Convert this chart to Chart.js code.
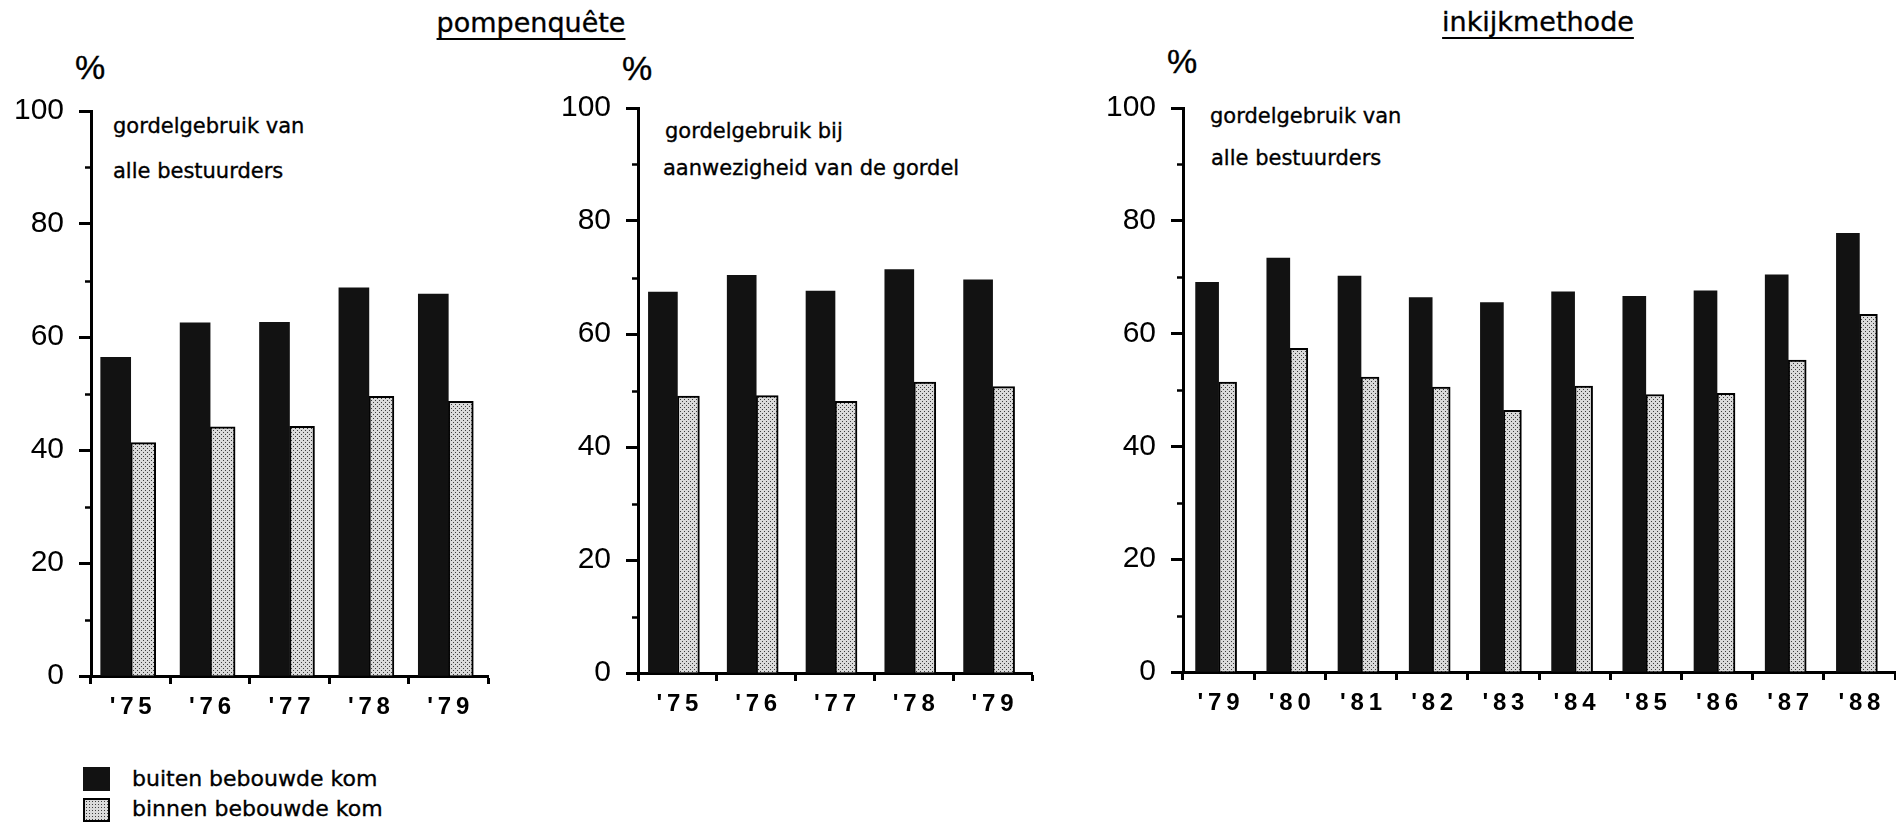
<!DOCTYPE html>
<html lang="nl">
<head>
<meta charset="utf-8">
<title>Gordelgebruik</title>
<script src="https://cdn.jsdelivr.net/npm/chart.js@4.4.1/dist/chart.umd.min.js"></script>
<style>
    html, body { margin: 0; padding: 0; background: #fff; width: 1896px; height: 824px; overflow: hidden; }
    body { position: relative; font-family: "DejaVu Sans", sans-serif; color: #000; }
    canvas { position: absolute; }
    .txt { position: absolute; white-space: nowrap; line-height: 1; -webkit-text-stroke: 0.35px #000; }
    .titel { font-size: 27px; text-decoration: underline; text-decoration-thickness: 2px;
             text-underline-offset: 6px; text-decoration-skip-ink: none; transform: translateX(-50%); }
    .pct { font-family: "Liberation Sans", sans-serif; font-size: 34px; }
    .note { font-size: 21px; }
    .leg { font-size: 22px; }
    .blok { position: absolute; width: 27px; height: 24px; box-sizing: border-box; }
</style>
</head>
<body>

<div class="txt titel" style="left:531px; top:9px;">pompenquête</div>
<div class="txt titel" style="left:1538px; top:8px;">inkijkmethode</div>

<div class="txt pct" style="left:75px; top:50px;">%</div>
<div class="txt pct" style="left:622px; top:51px;">%</div>
<div class="txt pct" style="left:1167px; top:44px;">%</div>

<div class="txt note" style="left:113px; top:116px;">gordelgebruik van</div>
<div class="txt note" style="left:113px; top:161px;">alle bestuurders</div>
<div class="txt note" style="left:665px; top:121px;">gordelgebruik bij</div>
<div class="txt note" style="left:663px; top:158px;">aanwezigheid van de gordel</div>
<div class="txt note" style="left:1210px; top:106px;">gordelgebruik van</div>
<div class="txt note" style="left:1211px; top:148px;">alle bestuurders</div>

<canvas id="grafiekPomp1"></canvas>
<canvas id="grafiekPomp2"></canvas>
<canvas id="grafiekInkijk"></canvas>

<div class="blok" style="left:83px; top:767px; background:#121212;"></div>
<div class="blok" id="legGrijs" style="left:83px; top:798px; border:2px solid #000;"></div>
<div class="txt leg" style="left:132px; top:768px;">buiten bebouwde kom</div>
<div class="txt leg" style="left:132px; top:798px;">binnen bebouwde kom</div>

<script>
// --- GEGEVENS ---
const jarenPomp = ["'75", "'76", "'77", "'78", "'79"];
const jarenInkijk = ["'79", "'80", "'81", "'82", "'83", "'84", "'85", "'86", "'87", "'88"];

// pompenquête: gordelgebruik van alle bestuurders
const pompAlleBuiten = [56.4, 62.5, 62.6, 68.7, 67.6];
const pompAlleBinnen = [41.3, 44.1, 44.2, 49.5, 48.6];

// pompenquête: gordelgebruik bij aanwezigheid van de gordel
const pompAanwezigBuiten = [67.4, 70.4, 67.6, 71.4, 69.6];
const pompAanwezigBinnen = [49.0, 49.1, 48.1, 51.5, 50.7];

// inkijkmethode: gordelgebruik van alle bestuurders
const inkijkBuiten = [69.1, 73.4, 70.2, 66.4, 65.5, 67.4, 66.6, 67.6, 70.4, 77.8];
const inkijkBinnen = [51.4, 57.4, 52.3, 50.5, 46.4, 50.7, 49.2, 49.4, 55.3, 63.4];

// as-schaal
const hoofdTicks = 20;
const tussenTicks = [10, 30, 50, 70, 90];

// --- OPMAAK ---
const LINKS = 90;   // breedte y-as
const BOVEN = 22;   // ruimte boven 100
const ONDER = 60;   // hoogte x-as
const RECHTS = 5;

// plek van de assen op de pagina
const vakPomp1 = { links: 91, rechts: 488, boven: 100, onder: 676 };
const vakPomp2 = { links: 638, rechts: 1032, boven: 97, onder: 673 };
const vakInkijk = { links: 1183, rechts: 1895, boven: 97, onder: 672 };

// gestippeld grijs voor "binnen bebouwde kom"
function maakStippel() {
    const c = document.createElement('canvas');
    c.width = 4; c.height = 4;
    const g = c.getContext('2d');
    g.fillStyle = '#dadada';
    g.fillRect(0, 0, 4, 4);
    g.fillStyle = '#3c3c3c';
    g.fillRect(0, 0, 1, 1);
    g.fillRect(2, 2, 1, 1);
    return g.createPattern(c, 'repeat');
}
const stippel = maakStippel();
document.getElementById('legGrijs').style.background =
    '#dadada radial-gradient(#3c3c3c 0.7px, transparent 0.8px) 0 0 / 3px 3px';

// kleine streepjes tussen de hoofdticks op de y-as
const kleineStreepjes = {
    id: 'kleineStreepjes',
    afterDraw(chart) {
        const ctx = chart.ctx;
        const schaal = chart.scales.y;
        const x0 = chart.chartArea.left;
        ctx.save();
        ctx.strokeStyle = '#000';
        ctx.lineWidth = 2.5;
        tussenTicks.forEach(v => {
            const py = Math.round(schaal.getPixelForValue(v)) + 0.5;
            ctx.beginPath();
            ctx.moveTo(x0 - 6, py);
            ctx.lineTo(x0, py);
            ctx.stroke();
        });
        ctx.restore();
    }
};

// jaartallen iets ruimer zetten, zoals in het origineel
function spatieer(tekst) {
    return tekst.split('').join('\u2009');
}

function maakGrafiek(id, vak, labels, buiten, binnen, dikteZwart, dikteGrijs) {
    const canvas = document.getElementById(id);
    canvas.width = LINKS + (vak.rechts - vak.links) + RECHTS;
    canvas.height = BOVEN + (vak.onder - vak.boven) + ONDER;
    canvas.style.left = (vak.links - LINKS) + 'px';
    canvas.style.top = (vak.boven - BOVEN) + 'px';

    return new Chart(canvas, {
        type: 'bar',
        data: {
            labels: labels,
            datasets: [
                { label: 'buiten bebouwde kom', data: buiten, backgroundColor: '#121212',
                  borderWidth: 0, barThickness: dikteZwart },
                { label: 'binnen bebouwde kom', data: binnen, backgroundColor: stippel,
                  borderColor: '#000', borderWidth: 2, barThickness: dikteGrijs }
            ]
        },
        options: {
            responsive: false,
            animation: false,
            devicePixelRatio: 1,
            layout: { padding: { top: BOVEN, right: RECHTS, left: 0, bottom: 0 } },
            plugins: { legend: { display: false }, tooltip: { enabled: false } },
            scales: {
                x: {
                    grid: { drawOnChartArea: false, offset: true, tickLength: 8, tickWidth: 3, tickColor: '#000' },
                    border: { display: true, color: '#000', width: 3 },
                    ticks: { color: '#000', padding: 9,
                             font: { family: 'Liberation Sans', size: 24, weight: 'bold' },
                             callback: function (v) { return spatieer(this.getLabelForValue(v)); } },
                    afterFit: s => { s.height = ONDER; }
                },
                y: {
                    min: 0, max: 100,
                    grid: { drawOnChartArea: false, tickLength: 12, tickWidth: 3, tickColor: '#000' },
                    border: { display: true, color: '#000', width: 3 },
                    ticks: { stepSize: hoofdTicks, color: '#000', padding: 15,
                             font: { family: 'Liberation Sans', size: 30 } },
                    afterFit: s => { s.width = LINKS; }
                }
            }
        },
        plugins: [kleineStreepjes]
    });
}

maakGrafiek('grafiekPomp1', vakPomp1, jarenPomp, pompAlleBuiten, pompAlleBinnen, 30, 25);
maakGrafiek('grafiekPomp2', vakPomp2, jarenPomp, pompAanwezigBuiten, pompAanwezigBinnen, 29, 22);
maakGrafiek('grafiekInkijk', vakInkijk, jarenInkijk, inkijkBuiten, inkijkBinnen, 23, 18);
</script>
</body>
</html>
